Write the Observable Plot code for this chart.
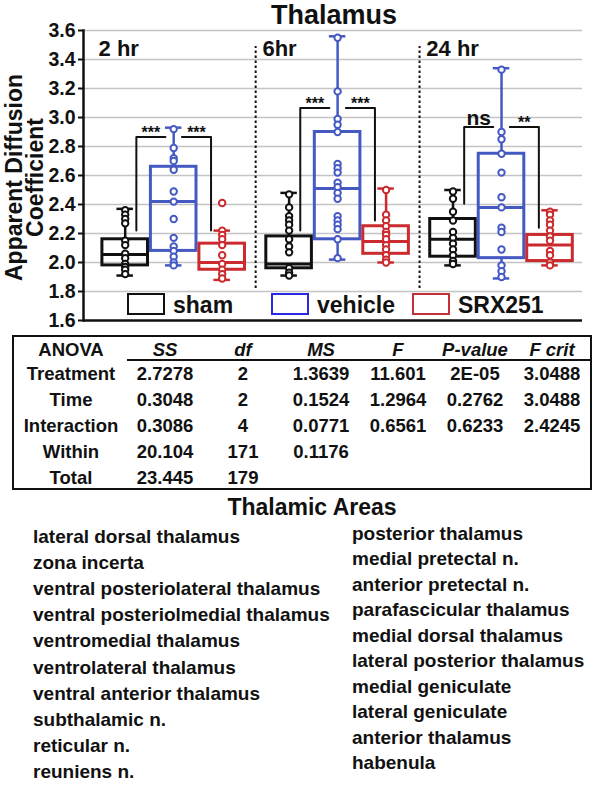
<!DOCTYPE html>
<html><head><meta charset="utf-8">
<script src="https://cdn.jsdelivr.net/npm/d3@7"></script>
<script src="https://cdn.jsdelivr.net/npm/@observablehq/plot@0.6"></script>
<style>
body{margin:0;background:#fff;font-family:"Liberation Sans",Arial,sans-serif;color:#111;}
#wrap{position:relative;width:600px;height:786px;overflow:hidden;background:#fff;}
.abs{position:absolute;white-space:nowrap;font-weight:bold;line-height:1.15;}
</style></head><body><div id="wrap"></div>
<script>
// ---------- data ----------
const chartTitle = "Thalamus";
const times = ["2 hr", "6hr", "24 hr"];
const groups = ["sham", "vehicle", "SRX251"];
const groupColors = ["#111111", "#4559c3", "#cb2a2e"];
const legendBoxColors = ["#111111", "#2a2ae0", "#c3303a"];
const yTicks = [1.6, 1.8, 2.0, 2.2, 2.4, 2.6, 2.8, 3.0, 3.2, 3.4, 3.6];
const yLabel = "Apparent Diffusion\nCoefficient";

// box statistics, order: 2hr(sham,vehicle,SRX251), 6hr(...), 24hr(...)
const whiskerLow  = [1.91, 1.98, 1.88,  1.91, 2.02, 2.00,  1.98, 1.89, 1.98];
const q1          = [1.98, 2.08, 1.95,  1.96, 2.16, 2.06,  2.04, 2.03, 2.01];
const median      = [2.055, 2.42, 2.00, 1.99, 2.51, 2.145, 2.16, 2.38, 2.12];
const q3          = [2.16, 2.66, 2.13,  2.18, 2.90, 2.25,  2.30, 2.75, 2.19];
const whiskerHigh = [2.37, 2.93, 2.22,  2.48, 3.56, 2.51,  2.50, 3.34, 2.36];

// individual points
const sham2hr     = [2.36, 2.33, 2.30, 2.27, 2.15, 2.12, 2.06, 2.03, 1.99, 1.97, 1.95, 1.92];
const vehicle2hr  = [2.92, 2.79, 2.72, 2.70, 2.64, 2.49, 2.42, 2.30, 2.17, 2.11, 2.08, 2.04, 2.00, 1.98];
const srx2hr      = [2.41, 2.22, 2.19, 2.16, 2.12, 2.05, 1.99, 1.95, 1.92, 1.89];
const sham6hr     = [2.47, 2.38, 2.32, 2.29, 2.26, 2.22, 2.16, 2.11, 2.07, 1.96, 1.93, 1.91];
const vehicle6hr  = [3.55, 3.18, 2.99, 2.95, 2.90, 2.68, 2.65, 2.62, 2.55, 2.52, 2.48, 2.44, 2.32, 2.29, 2.26, 2.23, 2.16, 2.03];
const srx6hr      = [2.50, 2.33, 2.29, 2.25, 2.21, 2.19, 2.16, 2.12, 2.09, 2.05, 2.02, 2.00];
const sham24hr    = [2.49, 2.44, 2.35, 2.29, 2.21, 2.17, 2.13, 2.09, 2.05, 2.01, 1.99];
const vehicle24hr = [3.33, 2.90, 2.85, 2.75, 2.62, 2.45, 2.38, 2.24, 2.21, 2.09, 1.98, 1.94, 1.90];
const srx24hr     = [2.35, 2.33, 2.29, 2.26, 2.22, 2.18, 2.15, 2.08, 2.05, 2.00, 1.98];

// significance brackets
const bracketTime  = [0, 0, 1, 1, 2, 2];
const bracketSide  = ["left", "right", "left", "right", "left", "right"];
const bracketTop   = [2.866, 2.866, 3.065, 3.065, 2.935, 2.935];
const bracketLeg   = [2.22, 2.22, 2.22, 2.29, 2.405, 2.24];
const bracketLabel = ["***", "***", "***", "***", "ns", "**"];

// ANOVA table
const anovaHeader = ["ANOVA", "SS", "df", "MS", "F", "P-value", "F crit"];
const anovaSource = ["Treatment", "Time", "Interaction", "Within", "Total"];
const anovaSS     = ["2.7278", "0.3048", "0.3086", "20.104", "23.445"];
const anovaDf     = ["2", "2", "4", "171", "179"];
const anovaMS     = ["1.3639", "0.1524", "0.0771", "0.1176", ""];
const anovaF      = ["11.601", "1.2964", "0.6561", "", ""];
const anovaP      = ["2E-05", "0.2762", "0.6233", "", ""];
const anovaFcrit  = ["3.0488", "3.0488", "2.4245", "", ""];

// thalamic areas
const areasTitle = "Thalamic Areas";
const areasLeft = ["lateral dorsal thalamus", "zona incerta", "ventral posteriolateral thalamus",
  "ventral posteriolmedial thalamus", "ventromedial thalamus", "ventrolateral thalamus",
  "ventral anterior thalamus", "subthalamic n.", "reticular n.", "reuniens n."];
const areasRight = ["posterior thalamus", "medial pretectal n.", "anterior pretectal n.",
  "parafascicular thalamus", "medial dorsal thalamus", "lateral posterior thalamus",
  "medial geniculate", "lateral geniculate", "anterior thalamus", "habenula"];

// ---------- build ----------
const wrap = document.getElementById("wrap");
function addText(txt, left, top, size, opts = {}) {
  const d = document.createElement("div");
  d.className = "abs";
  d.textContent = txt;
  d.style.left = left + "px";
  d.style.top = top + "px";
  d.style.fontSize = size + "px";
  d.style.transform = opts.center ? "translate(-50%,-50%)" : "translateY(-50%)";
  if (opts.italic) d.style.fontStyle = "italic";
  wrap.appendChild(d);
  return d;
}

const facetStep = 3.38;
const pos = (ti, gi) => ti * facetStep + (gi - 1);
const boxHalf = 0.47, capHalf = 0.17;

const boxes = [];
times.forEach((t, ti) => groups.forEach((g, gi) => {
  const k = ti * 3 + gi;
  boxes.push({ti, gi, x: pos(ti, gi), lo: whiskerLow[k], q1: q1[k], med: median[k], q3: q3[k], hi: whiskerHigh[k], color: groupColors[gi]});
}));

const pointSets = [sham2hr, vehicle2hr, srx2hr, sham6hr, vehicle6hr, srx6hr, sham24hr, vehicle24hr, srx24hr];
const points = pointSets.flatMap((arr, k) => arr.map(v => ({x: boxes[k].x, y: v, color: boxes[k].color})));

const bracketPaths = [];
const bracketTexts = [];
bracketTime.forEach((ti, i) => {
  let legX, innerX;
  if (bracketSide[i] === "left") { legX = pos(ti, 0) + 0.23; innerX = pos(ti, 1) - 0.17; }
  else { legX = pos(ti, 2) - 0.23; innerX = pos(ti, 1) + 0.17; }
  bracketPaths.push({id: i, x: legX, y: bracketLeg[i]}, {id: i, x: legX, y: bracketTop[i]}, {id: i, x: innerX, y: bracketTop[i]});
  bracketTexts.push({x: (legX + innerX) / 2, y: bracketTop[i], text: bracketLabel[i], star: bracketLabel[i] !== "ns"});
});

const separators = [0.5, 1.5].map(s => s * facetStep);

const plot = Plot.plot({
  width: 600, height: 298,
  marginTop: 2, marginBottom: 6, marginLeft: 83, marginRight: 18,
  x: {type: "linear", domain: [-1.86, 8.43], axis: null},
  y: {domain: [1.6, 3.6], axis: null},
  color: {type: "identity"},
  style: {fontFamily: '"Liberation Sans", Arial, sans-serif', fontWeight: "bold", color: "#111", background: "transparent", overflow: "visible"},
  marks: [
    Plot.ruleY(yTicks.filter(v => v > 1.6), {stroke: "#c4c4c4", strokeWidth: 1.5}),
    Plot.axisY({ticks: yTicks, tickFormat: d3.format(".1f"), tickSize: 5, tickPadding: 3, fontSize: 19.5, strokeWidth: 2, label: null}),
    Plot.ruleY([1.6], {stroke: "#111", strokeWidth: 2.5}),
    Plot.frame({anchor: "left", stroke: "#111", strokeWidth: 2.5}),
    Plot.ruleX(separators, {y1: 1.82, y2: 3.49, stroke: "#111", strokeWidth: 2, strokeDasharray: "2.5,2.5"}),
    Plot.text([yLabel], {frameAnchor: "left", textAnchor: "middle", dx: -58, dy: 2, rotate: -90, fontSize: 23, lineHeight: 0.92, fill: "#111"}),
    Plot.text(times, {x: (d, i) => i * facetStep - 1.55, y: 3.47, text: d => d, textAnchor: "start", lineAnchor: "middle", fontSize: 22, fill: "#111"}),
    // whiskers
    Plot.ruleX(boxes, {x: "x", y1: "lo", y2: "q1", stroke: "color", strokeWidth: 2.5}),
    Plot.ruleX(boxes, {x: "x", y1: "q3", y2: "hi", stroke: "color", strokeWidth: 2.5}),
    Plot.ruleY(boxes, {y: "lo", x1: d => d.x - capHalf, x2: d => d.x + capHalf, stroke: "color", strokeWidth: 2.5}),
    Plot.ruleY(boxes, {y: "hi", x1: d => d.x - capHalf, x2: d => d.x + capHalf, stroke: "color", strokeWidth: 2.5}),
    // boxes
    Plot.rect(boxes, {x1: d => d.x - boxHalf, x2: d => d.x + boxHalf, y1: "q1", y2: "q3", stroke: "color", fill: "none", strokeWidth: 3}),
    Plot.ruleY(boxes, {y: "med", x1: d => d.x - boxHalf, x2: d => d.x + boxHalf, stroke: "color", strokeWidth: 3}),
    // points
    Plot.dot(points, {x: "x", y: "y", r: 3.2, stroke: "color", fill: "white", strokeWidth: 2}),
    // brackets
    Plot.line(bracketPaths, {x: "x", y: "y", z: "id", stroke: "#111", strokeWidth: 2, curve: "linear"}),
    Plot.text(bracketTexts.filter(d => d.star), {x: "x", y: "y", text: "text", dy: -4, fontSize: 16, lineAnchor: "middle", fill: "#111"}),
    Plot.text(bracketTexts.filter(d => !d.star), {x: "x", y: "y", text: "text", dy: -9, fontSize: 21, lineAnchor: "middle", fill: "#111"})
  ]
});
plot.style.position = "absolute";
plot.style.left = "0px";
plot.style.top = "28px";
wrap.appendChild(plot);

// title
const t = document.createElement("div");
t.className = "abs";
t.textContent = chartTitle;
t.style.cssText += "left:334px;top:0px;font-size:27px;line-height:30px;transform:translateX(-50%);";
wrap.appendChild(t);

// legend inside plot
const legendLeft = [127, 271, 412];
groups.forEach((g, i) => {
  const b = document.createElement("div");
  b.style.cssText = `position:absolute;left:${legendLeft[i]}px;top:293px;width:34px;height:18px;border:2.5px solid ${legendBoxColors[i]};background:#fff;`;
  wrap.appendChild(b);
  addText(g, legendLeft[i] + 46, 305, 23);
});

// ANOVA table
const tbl = document.createElement("div");
tbl.style.cssText = "position:absolute;left:12px;top:335px;width:576px;height:151px;border:2px solid #111;";
wrap.appendChild(tbl);
const ul = document.createElement("div");
ul.style.cssText = "position:absolute;left:127px;top:359px;width:463px;height:0;border-top:2px solid #111;";
wrap.appendChild(ul);
const colX = [71, 165, 243, 321, 398, 475, 552];
const rowY = [374, 400, 426, 452, 478];
anovaHeader.forEach((h, c) => addText(h, colX[c], 350, 18.5, {center: true, italic: c > 0}));
const cols = [anovaSource, anovaSS, anovaDf, anovaMS, anovaF, anovaP, anovaFcrit];
cols.forEach((col, c) => col.forEach((v, r) => { if (v) addText(v, colX[c], rowY[r], 18.5, {center: true}); }));

// thalamic areas
addText(areasTitle, 312, 507, 23, {center: true});
areasLeft.forEach((a, i) => addText(a, 33, 537 + i * 26.1, 19));
areasRight.forEach((a, i) => addText(a, 352, 533.5 + i * 25.5, 19));
</script></body></html>
